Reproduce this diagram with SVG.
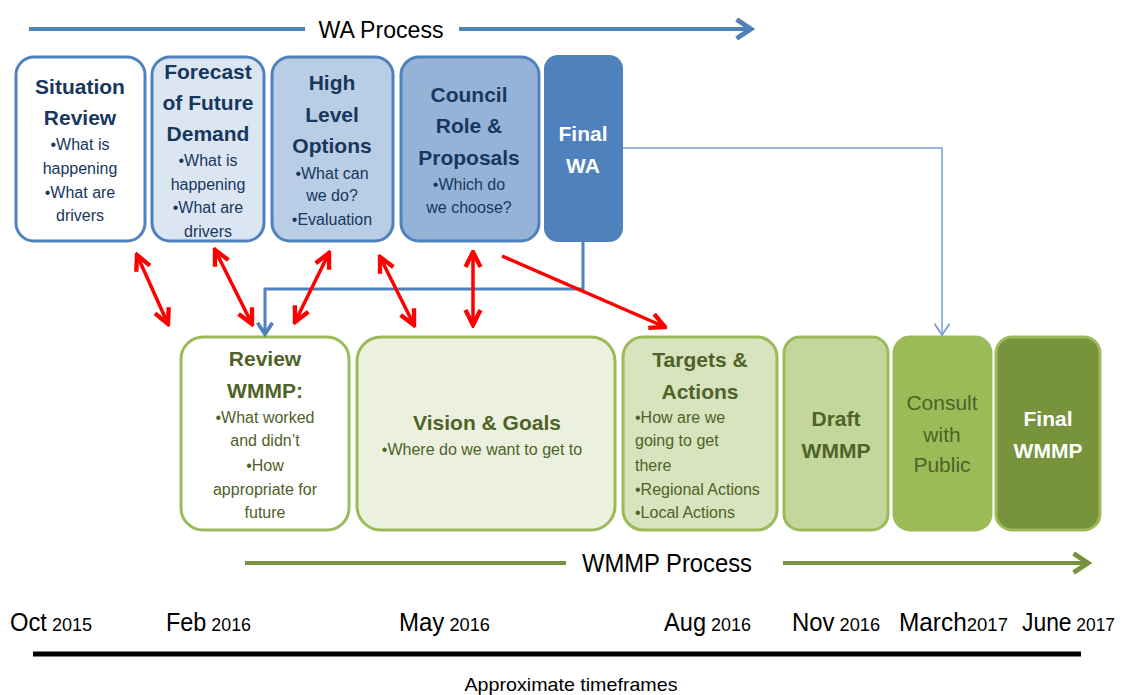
<svg xmlns="http://www.w3.org/2000/svg" width="1125" height="695" viewBox="0 0 1125 695">
<style>
text{font-family:"Liberation Sans",Arial,sans-serif;text-anchor:middle}
.bt{stroke:#4F81BD;stroke-width:3}
.bg{stroke:#9BBB59;stroke-width:3}
.tb{font-size:21px;font-weight:bold;fill:#17375E}
.tn{font-size:16px;fill:#17375E}
.gb{font-size:21px;font-weight:bold;fill:#4F6228}
.gn{font-size:16px;fill:#4F6228}
.wb{font-size:21px;font-weight:bold;fill:#FFFFFF}
.red{stroke:#FF0000;stroke-width:3.5;fill:none}
.tl{text-anchor:start}
.mo{font-size:25px;fill:#000}
.yr{font-size:19px;fill:#000}
</style>
<defs>
<marker id="rh" markerUnits="userSpaceOnUse" markerWidth="20" markerHeight="20" viewBox="-14 -8 16 16" refX="0" refY="0" orient="auto-start-reverse">
<path d="M-12,-6 L0,0 L-12,6" fill="none" stroke="#FF0000" stroke-width="3.5"/>
</marker>
<marker id="bh" markerUnits="userSpaceOnUse" markerWidth="24" markerHeight="24" viewBox="-16 -10 18 20" refX="0" refY="0" orient="auto">
<path d="M-12,-8 L0,0 L-12,8" fill="none" stroke="#4F81BD" stroke-width="4"/>
</marker>
<marker id="bh2" markerUnits="userSpaceOnUse" markerWidth="20" markerHeight="20" viewBox="-12 -8 14 16" refX="0" refY="0" orient="auto">
<path d="M-9,-6 L0,0 L-9,6" fill="none" stroke="#4F81BD" stroke-width="3"/>
</marker>
<marker id="lh" markerUnits="userSpaceOnUse" markerWidth="20" markerHeight="20" viewBox="-12 -8 14 16" refX="0" refY="0" orient="auto">
<path d="M-9,-6 L0,0 L-9,6" fill="none" stroke="#7BA0D4" stroke-width="1.5"/>
</marker>
<marker id="gh" markerUnits="userSpaceOnUse" markerWidth="24" markerHeight="24" viewBox="-16 -10 18 20" refX="0" refY="0" orient="auto">
<path d="M-12,-8 L0,0 L-12,8" fill="none" stroke="#77933C" stroke-width="4"/>
</marker>
</defs>
<rect width="1125" height="695" fill="#FFFFFF"/>

<g id="wa-process">
<line x1="29" y1="29" x2="305" y2="29" stroke="#4F81BD" stroke-width="4"/>
<text x="381" y="32" font-size="24" fill="#000" dominant-baseline="middle" textLength="125" lengthAdjust="spacingAndGlyphs">WA Process</text>
<line x1="459" y1="29" x2="751" y2="29" stroke="#4F81BD" stroke-width="4" marker-end="url(#bh)"/>
</g>

<g id="situation-review">
<rect x="16" y="57" width="129" height="184" rx="18" fill="#FFFFFF" class="bt"/>
<text x="80" y="94" class="tb">Situation</text>
<text x="80" y="125" class="tb">Review</text>
<text x="80" y="150" class="tn">•What is</text>
<text x="80" y="174" class="tn">happening</text>
<text x="80" y="198" class="tn">•What are</text>
<text x="80" y="221" class="tn">drivers</text>
</g>

<g id="forecast">
<rect x="152" y="57" width="112" height="184" rx="18" fill="#DCE6F2" class="bt"/>
<text x="208" y="79" class="tb">Forecast</text>
<text x="208" y="110" class="tb">of Future</text>
<text x="208" y="141" class="tb">Demand</text>
<text x="208" y="166" class="tn">•What is</text>
<text x="208" y="190" class="tn">happening</text>
<text x="208" y="213" class="tn">•What are</text>
<text x="208" y="237" class="tn">drivers</text>
</g>

<g id="high-level-options">
<rect x="272" y="57" width="121" height="184" rx="18" fill="#B9CDE5" class="bt"/>
<text x="332" y="90" class="tb">High</text>
<text x="332" y="122" class="tb">Level</text>
<text x="332" y="153" class="tb">Options</text>
<text x="332" y="179" class="tn">•What can</text>
<text x="332" y="201" class="tn">we do?</text>
<text x="332" y="225" class="tn">•Evaluation</text>
</g>

<g id="council-role">
<rect x="401" y="57" width="138" height="184" rx="18" fill="#95B3D7" class="bt"/>
<text x="469" y="102" class="tb">Council</text>
<text x="469" y="133" class="tb">Role &amp;</text>
<text x="469" y="165" class="tb">Proposals</text>
<text x="469" y="190" class="tn">•Which do</text>
<text x="469" y="213" class="tn">we choose?</text>
</g>

<g id="final-wa">
<rect x="544" y="55" width="79" height="187" rx="14" fill="#4F81BD"/>
<text x="583" y="141" class="wb">Final</text>
<text x="583" y="173" class="wb">WA</text>
</g>

<g id="review-wmmp">
<rect x="181" y="337" width="168" height="193" rx="22" fill="#FFFFFF" class="bg"/>
<text x="265" y="366" class="gb">Review</text>
<text x="265" y="398" class="gb">WMMP:</text>
<text x="265" y="423" class="gn">•What worked</text>
<text x="265" y="446" class="gn">and didn’t</text>
<text x="265" y="471" class="gn">•How</text>
<text x="265" y="495" class="gn">appropriate for</text>
<text x="265" y="518" class="gn">future</text>
</g>

<g id="vision-goals">
<rect x="357" y="337" width="258" height="193" rx="24" fill="#EBF1DE" class="bg"/>
<text x="487" y="430" class="gb">Vision &amp; Goals</text>
<text x="482" y="455" class="gn">•Where do we want to get to</text>
</g>

<g id="targets-actions">
<rect x="623" y="337" width="154" height="193" rx="20" fill="#D7E4BD" class="bg"/>
<text x="700" y="367" class="gb">Targets &amp;</text>
<text x="700" y="399" class="gb">Actions</text>
<text x="635" y="423" class="gn tl">•How are we</text>
<text x="635" y="446" class="gn tl">going to get</text>
<text x="635" y="471" class="gn tl">there</text>
<text x="635" y="495" class="gn tl">•Regional Actions</text>
<text x="635" y="518" class="gn tl">•Local Actions</text>
</g>

<g id="draft-wmmp">
<rect x="784" y="337" width="104" height="193" rx="16" fill="#C3D69B" class="bg"/>
<text x="836" y="426" class="gb">Draft</text>
<text x="836" y="458" class="gb">WMMP</text>
</g>

<g id="consult-public">
<rect x="894" y="337" width="97" height="193" rx="16" fill="#9BBB59" class="bg"/>
<text x="942" y="410" font-size="21" fill="#4F6228">Consult</text>
<text x="942" y="442" font-size="21" fill="#4F6228">with</text>
<text x="942" y="472" font-size="21" fill="#4F6228">Public</text>
</g>

<g id="final-wmmp">
<rect x="996" y="337" width="104" height="193" rx="16" fill="#77933C" class="bg"/>
<text x="1048" y="426" class="wb">Final</text>
<text x="1048" y="458" class="wb">WMMP</text>
</g>

<g id="connectors">
<polyline points="623,148 942,148 942,335" fill="none" stroke="#7BA0D4" stroke-width="1.5" marker-end="url(#lh)"/>
<polyline points="583,242 583,289 265,289 265,334" fill="none" stroke="#4F81BD" stroke-width="3" marker-end="url(#bh2)"/>
<line x1="137" y1="255" x2="168" y2="324" class="red" marker-start="url(#rh)" marker-end="url(#rh)"/>
<line x1="215" y1="250" x2="252" y2="324" class="red" marker-start="url(#rh)" marker-end="url(#rh)"/>
<line x1="329" y1="253" x2="295" y2="322" class="red" marker-start="url(#rh)" marker-end="url(#rh)"/>
<line x1="380" y1="257" x2="414" y2="325" class="red" marker-start="url(#rh)" marker-end="url(#rh)"/>
<line x1="473" y1="252" x2="473" y2="325" class="red" marker-start="url(#rh)" marker-end="url(#rh)"/>
<line x1="502" y1="256" x2="665" y2="327" class="red" marker-end="url(#rh)"/>
</g>

<g id="wmmp-process">
<line x1="245" y1="563" x2="566" y2="563" stroke="#77933C" stroke-width="4"/>
<text x="667" y="565" font-size="25" fill="#000" dominant-baseline="middle" textLength="170" lengthAdjust="spacingAndGlyphs">WMMP Process</text>
<line x1="783" y1="563" x2="1088" y2="563" stroke="#77933C" stroke-width="4" marker-end="url(#gh)"/>
</g>

<g id="timeline">
<text x="10" y="631" class="tl" textLength="82" lengthAdjust="spacingAndGlyphs"><tspan class="mo">Oct</tspan><tspan class="yr"> 2015</tspan></text>
<text x="166" y="631" class="tl" textLength="85" lengthAdjust="spacingAndGlyphs"><tspan class="mo">Feb</tspan><tspan class="yr"> 2016</tspan></text>
<text x="399" y="631" class="tl" textLength="91" lengthAdjust="spacingAndGlyphs"><tspan class="mo">May</tspan><tspan class="yr"> 2016</tspan></text>
<text x="664" y="631" class="tl" textLength="87" lengthAdjust="spacingAndGlyphs"><tspan class="mo">Aug</tspan><tspan class="yr"> 2016</tspan></text>
<text x="792" y="631" class="tl" textLength="88" lengthAdjust="spacingAndGlyphs"><tspan class="mo">Nov</tspan><tspan class="yr"> 2016</tspan></text>
<text x="899" y="631" class="tl" textLength="109" lengthAdjust="spacingAndGlyphs"><tspan class="mo">March</tspan><tspan class="yr">2017</tspan></text>
<text x="1022" y="631" class="tl" textLength="93" lengthAdjust="spacingAndGlyphs"><tspan class="mo">June</tspan><tspan class="yr"> 2017</tspan></text>
<line x1="33" y1="654" x2="1081" y2="654" stroke="#000" stroke-width="5"/>
<text x="571" y="691" font-size="19" fill="#000" textLength="213" lengthAdjust="spacingAndGlyphs">Approximate timeframes</text>
</g>
</svg>
